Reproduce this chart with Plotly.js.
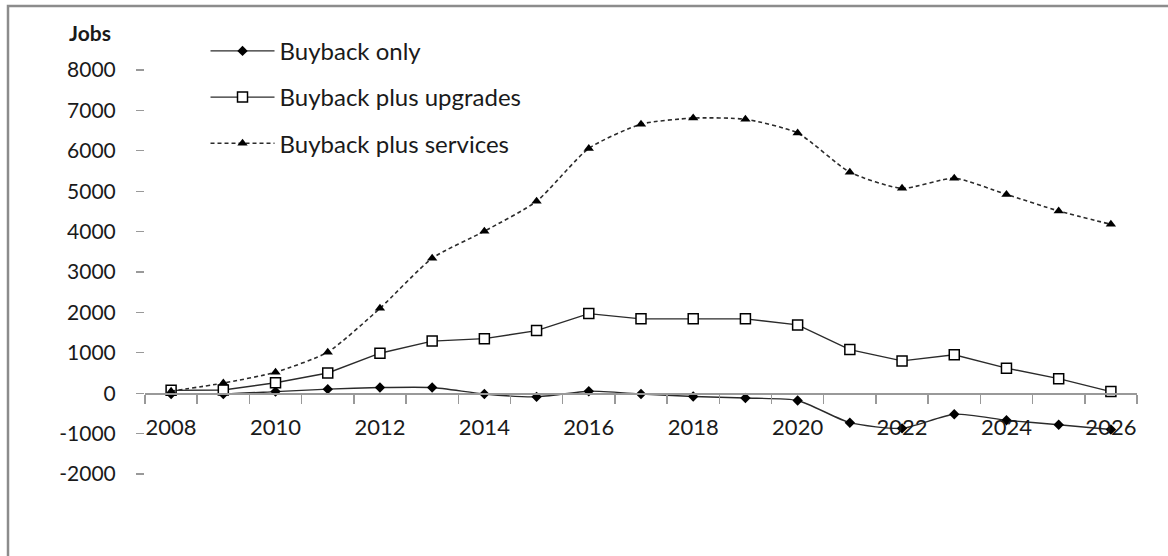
<!DOCTYPE html>
<html>
<head>
<meta charset="utf-8">
<script src="https://cdn.plot.ly/plotly-3.0.1.min.js"></script>
<style>html,body{margin:0;padding:0;background:#fff;}#chart{width:1168px;height:556px;}</style>
</head>
<body>
<div id="chart"></div>
<script>
const years = [2008,2009,2010,2011,2012,2013,2014,2015,2016,2017,2018,2019,2020,2021,2022,2023,2024,2025,2026];
const buybackOnly = [-20,-20,40,100,140,140,-20,-90,50,-20,-80,-120,-180,-730,-870,-520,-670,-780,-900];
const buybackUpgrades = [70,80,260,500,990,1290,1350,1550,1970,1840,1840,1840,1690,1080,800,950,620,360,40];
const buybackServices = [50,250,520,1015,2100,3340,4010,4750,6060,6660,6810,6780,6440,5470,5070,5320,4920,4510,4180];
const seriesNames = ['Buyback only','Buyback plus upgrades','Buyback plus services'];
const xTickLabels = [2008,2010,2012,2014,2016,2018,2020,2022,2024,2026];
const yTickVals = [-2000,-1000,0,1000,2000,3000,4000,5000,6000,7000,8000];

const FONT = 'Lato, "Open Sans", sans-serif';
const lineCol = '#2b2b2b';

const traces = [
  {x: years, y: buybackOnly, name: seriesNames[0], legendgroup: 'a', type: 'scatter', mode: 'lines+markers',
   line: {color: lineCol, width: 1.4, shape: 'spline', smoothing: 0.6},
   marker: {symbol: 'diamond', size: 8, color: '#000'}},
  {x: years, y: buybackUpgrades, name: seriesNames[1], legendgroup: 'b', type: 'scatter', mode: 'lines+markers',
   line: {color: lineCol, width: 1.4},
   marker: {symbol: 'square', size: 10, color: '#fff', line: {color: '#000', width: 1.5}}},
  {x: years, y: buybackServices, name: seriesNames[2], legendgroup: 'c', type: 'scatter', mode: 'lines+markers',
   line: {color: lineCol, width: 1.6, dash: '4px,3px', shape: 'spline', smoothing: 0.6},
   marker: {symbol: 'triangle-up', size: 9, color: '#000'}}
];

const layout = {
  width: 1168, height: 556,
  margin: {l: 145, r: 31, t: 70, b: 82},
  paper_bgcolor: '#fff', plot_bgcolor: 'rgba(0,0,0,0)',
  font: {family: FONT, size: 22, color: '#1a1a1a'},
  showlegend: true,
  legend: {x: 0.061, y: 1.102, xanchor: 'left', yanchor: 'top', bgcolor: 'rgba(0,0,0,0)',
           font: {family: FONT, size: 24, color: '#1a1a1a'}, tracegroupgap: 12, itemwidth: 64,
           traceorder: 'grouped'},
  xaxis: {type: 'linear', range: [2007.5, 2026.5], anchor: 'free', position: 0.2,
          showline: true, linecolor: '#999', linewidth: 1.5, showgrid: false, zeroline: false,
          tickmode: 'array', tickvals: xTickLabels, ticktext: xTickLabels.map(String), ticks: '',
          ticklabelstandoff: 14,
          minor: {tickmode: 'linear', tick0: 2007.5, dtick: 1, ticks: 'outside', ticklen: 9, tickcolor: '#999', tickwidth: 1.5, showgrid: false},
          tickfont: {family: FONT, size: 22, color: '#1a1a1a'}},
  yaxis: {range: [-2000, 8000], tickmode: 'array', tickvals: yTickVals, ticktext: yTickVals.map(String),
          showline: false, showgrid: false, zeroline: false, ticks: 'outside', ticklen: 8, tickcolor: '#999', tickwidth: 1.2,
          ticklabelstandoff: 16, tickfont: {family: FONT, size: 21, color: '#1a1a1a'}},
  annotations: [
    {text: '<b>Jobs</b>', xref: 'paper', yref: 'paper', x: -0.079, y: 1.0916, xanchor: 'left', yanchor: 'middle',
     showarrow: false, font: {family: FONT, size: 21, color: '#1a1a1a'}}
  ],
  shapes: [
    {type: 'path', xref: 'paper', yref: 'paper', path: 'M -0.1381,-0.3 L -0.1381,1.1584 L 1.1,1.1584',
     line: {color: '#8c8c8c', width: 2.5}}
  ]
};

Plotly.newPlot('chart', traces, layout, {displayModeBar: false, staticPlot: true});
</script>
</body>
</html>
